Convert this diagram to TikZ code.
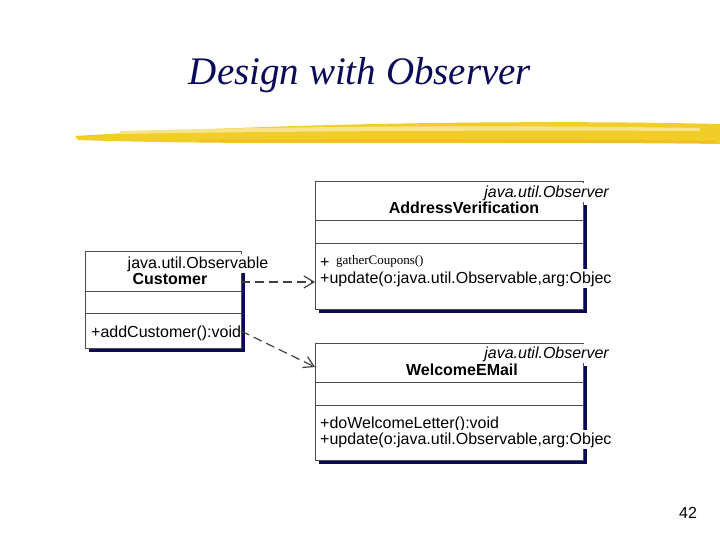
\documentclass[tikz,border=0pt]{standalone}
\usepackage{fontspec}
\setmainfont{Liberation Serif}
\newfontfamily\uml{Liberation Sans}
\usetikzlibrary{arrows.meta}
\definecolor{navy}{RGB}{10,10,90}
\definecolor{brush}{RGB}{240,205,40}
\tikzset{
  box/.style={draw=black!70, fill=white, line width=1pt},
  shadow/.style={fill=navy},
  umltext/.style={font=\uml\fontsize{16}{18}\selectfont, inner sep=0pt},
  overflow/.style={fill=white, inner ysep=2pt},
  depends/.style={draw=black!75, dash pattern=on 9pt off 5pt, line width=1.2pt, -{Straight Barb[length=10pt,width=12pt]}}
}
\begin{document}
\begin{tikzpicture}[x=1pt,y=-1pt]
  \useasboundingbox (0,0) rectangle (720,540);
  % title and brush stroke
  \node[font=\itshape\fontsize{39}{42}\selectfont, text=navy] (title) at (360,75) {Design with Observer};
  \fill[brush] (75,136) .. controls (300,122) and (550,120) .. (720,124)
    -- (720,144) .. controls (500,141) and (250,146) .. (78,140) -- cycle;
  \fill[brush!55] (120,131) .. controls (300,126) and (500,125) .. (700,128) -- (700,131) .. controls (500,130) and (300,131) .. (120,134) -- cycle;
  \fill[brush!80!orange] (200,140) .. controls (400,139) and (550,139) .. (715,141) -- (715,143) .. controls (550,142) and (400,143) .. (200,142) -- cycle;
  % Customer
  \fill[shadow] (89,255) rectangle (245,352);
  \draw[box] (85,251) rectangle (241,348);
  \draw[black!70] (85,291) -- (241,291) (85,313) -- (241,313);
  \node[umltext, overflow, anchor=base] (custst) at (198,268) {java.util.Observable};
  \node[umltext, font=\uml\bfseries\fontsize{16}{18}\selectfont, anchor=base] (custname) at (170,284) {Customer};
  \node[umltext, anchor=base west] (custop) at (91,337) {+addCustomer():void};
  \coordinate (custa) at (241,282);
  \coordinate (custb) at (241,331);
  % AddressVerification
  \fill[shadow] (319,205) rectangle (587,313);
  \draw[box] (315,182) rectangle (583,309);
  \draw[black!70] (315,220) -- (583,220) (315,243) -- (583,243);
  \node[umltext, overflow, font=\uml\itshape\fontsize{16}{18}\selectfont, anchor=base east] (addrst) at (609,197) {java.util.Observer};
  \node[umltext, font=\uml\bfseries\fontsize{16}{18}\selectfont, anchor=base] (addrname) at (464,214) {AddressVerification};
  \node[umltext, anchor=base west] (addrplus) at (320,267) {+};
  \node[font=\fontsize{13}{15}\selectfont, inner sep=0pt, anchor=base west] (addrop) at (336,264) {gatherCoupons()};
  \node[umltext, overflow, anchor=base west] (addrupd) at (320,283) {+update(o:java.util.Observable,arg:Objec};
  \coordinate (addra) at (315,282);
  % WelcomeEMail
  \fill[shadow] (319,366) rectangle (587,464);
  \draw[box] (315,343) rectangle (583,460);
  \draw[black!70] (315,382) -- (583,382) (315,405) -- (583,405);
  \node[umltext, overflow, font=\uml\itshape\fontsize{16}{18}\selectfont, anchor=base east] (welcst) at (609,358) {java.util.Observer};
  \node[umltext, font=\uml\bfseries\fontsize{16}{18}\selectfont, anchor=base] (welcname) at (462,375) {WelcomeEMail};
  \node[umltext, anchor=base west] (welcop) at (320,428) {+doWelcomeLetter():void};
  \node[umltext, overflow, anchor=base west] (welcupd) at (320,444) {+update(o:java.util.Observable,arg:Objec};
  \coordinate (welca) at (315,367);
  % dependencies
  \draw[depends] (custa) -- (addra);
  \draw[depends] (custb) -- (welca);
  % page number
  \node[font=\uml\fontsize{16}{18}\selectfont] (page) at (688,513) {42};
\end{tikzpicture}
\end{document}
